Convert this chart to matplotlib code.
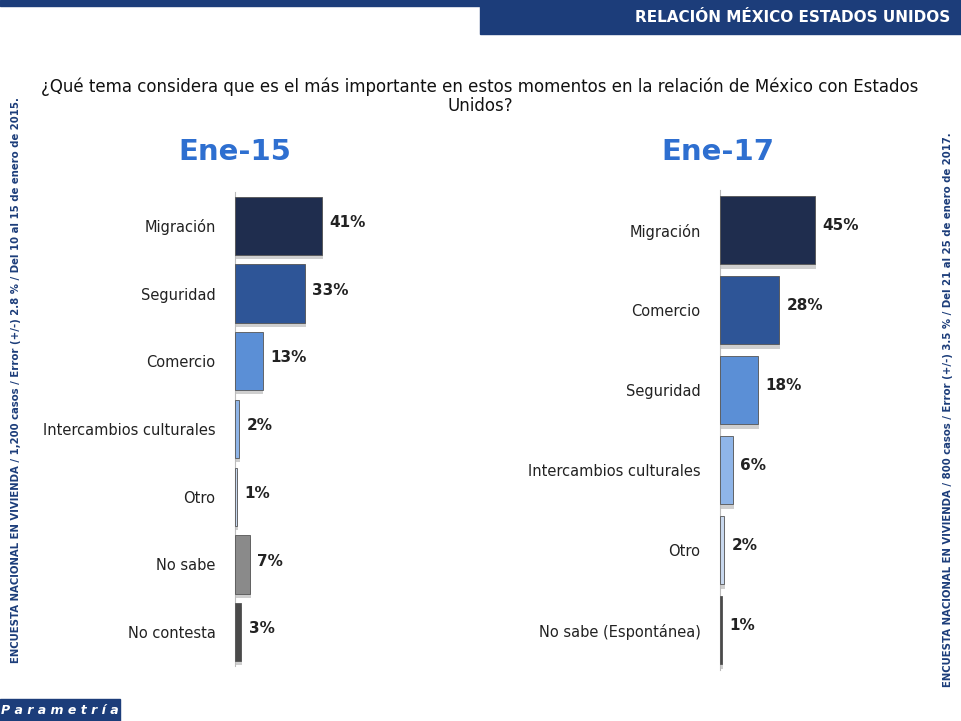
import matplotlib
matplotlib.use("Agg")
import matplotlib.pyplot as plt
from matplotlib.patches import Rectangle

left_title = "Ene-15"
left_cats = ["Migración", "Seguridad", "Comercio", "Intercambios culturales", "Otro", "No sabe", "No contesta"]
left_vals = [41, 33, 13, 2, 1, 7, 3]
left_colors = ["#1f2d4e", "#2e5597", "#5b8fd6", "#8fb5e8", "#c8d8ee", "#8a8a8a", "#4a4a4a"]

right_title = "Ene-17"
right_cats = ["Migración", "Comercio", "Seguridad", "Intercambios culturales", "Otro", "No sabe (Espontánea)"]
right_vals = [45, 28, 18, 6, 2, 1]
right_colors = ["#1f2d4e", "#2e5597", "#5b8fd6", "#8fb5e8", "#c8d8ee", "#4a4a4a"]

W, H = 961, 721
fig = plt.figure(figsize=(W/100, H/100), dpi=100)
fig.patch.set_facecolor("white")

def ax_px(x0, y0, x1, y1):
    return fig.add_axes([x0/W, 1-y1/H, (x1-x0)/W, (y1-y0)/H])

def draw(ax, cats, vals, colors, hfrac):
    n = len(cats)
    y = list(range(n))
    ax.barh(y, vals, height=hfrac, color=colors, edgecolor="#555555", linewidth=0.6, zorder=3)
    ax.barh([v + 0.06 for v in y], [v + 0.4 for v in vals], left=0, height=hfrac, color="#00000030", zorder=2)
    for yi, v in zip(y, vals):
        ax.text(v + 3.5, yi - 0.05, f"{v}%", va="center", ha="left", fontsize=11, fontweight="bold", color="#222222")
    ax.set_yticks(y)
    ax.set_yticklabels(cats, fontsize=10.5, color="#222222")
    ax.tick_params(axis="y", length=0, pad=14)
    ax.set_xticks([])
    ax.set_xlim(0, 100)
    ax.set_ylim(n - 0.5, -0.5)
    for s in ["top", "right", "bottom"]:
        ax.spines[s].set_visible(False)
    ax.spines["left"].set_color("#bbbbbb")
    ax.patch.set_alpha(0)

axl = ax_px(235, 192, 447, 666)
draw(axl, left_cats, left_vals, left_colors, 0.86)
axr = ax_px(720, 190, 931, 670)
draw(axr, right_cats, right_vals, right_colors, 0.86)

# header
fig.add_artist(Rectangle((0, 1-6/H), 1, 6/H, transform=fig.transFigure, color="#1c3d7a"))
fig.add_artist(Rectangle((480/W, 1-34/H), 481/W, 34/H, transform=fig.transFigure, color="#1c3d7a"))
fig.text(950/W, 1-18/H, "RELACIÓN MÉXICO ESTADOS UNIDOS", ha="right", va="center", color="white", fontsize=11, fontweight="bold")

fig.text(480/W, 1-96/H, "¿Qué tema considera que es el más importante en estos momentos en la relación de México con Estados\nUnidos?",
         ha="center", va="center", fontsize=12, color="#111111", linespacing=1.1)

fig.text(235/W, 1-152/H, left_title, ha="center", va="center", fontsize=21, fontweight="bold", color="#2e6fd0")
fig.text(718/W, 1-152/H, right_title, ha="center", va="center", fontsize=21, fontweight="bold", color="#2e6fd0")

fig.text(16/W, 1-380/H, "ENCUESTA NACIONAL EN VIVIENDA / 1,200 casos / Error (+/-) 2.8 % / Del 10 al 15 de enero de 2015.",
         rotation=90, ha="center", va="center", fontsize=7.3, fontweight="bold", color="#1c3d7a")
fig.text(948/W, 1-410/H, "ENCUESTA NACIONAL EN VIVIENDA / 800 casos / Error (+/-) 3.5 % / Del 21 al 25 de enero de 2017.",
         rotation=90, ha="center", va="center", fontsize=7.3, fontweight="bold", color="#1c3d7a")

fig.add_artist(Rectangle((0, 0), 120/W, 22/H, transform=fig.transFigure, color="#1c3d7a"))
fig.text(60/W, 11/H, "P a r a m e t r í a", ha="center", va="center", color="white", fontsize=9, fontstyle="italic", fontweight="bold")

fig.savefig("out.png", dpi=100)
